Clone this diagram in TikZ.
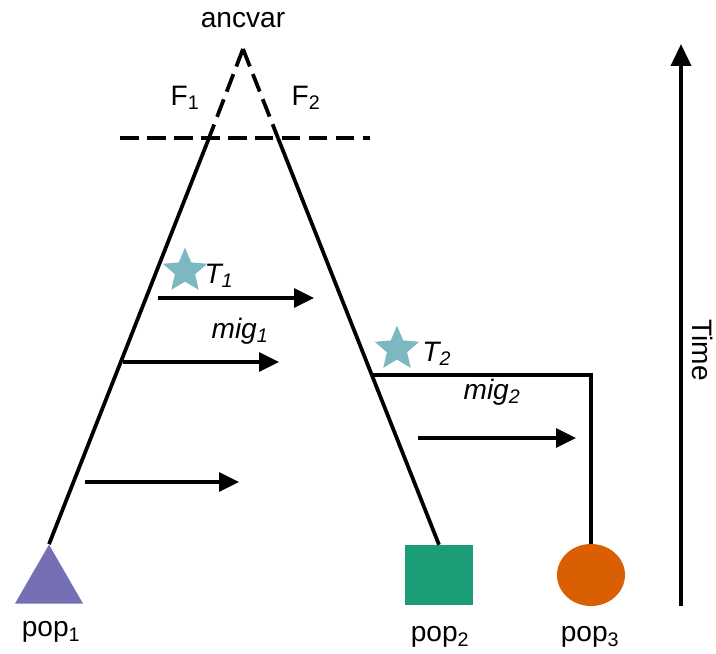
\documentclass[tikz,border=0pt]{standalone}
\usepackage{fontspec}
\setmainfont{Liberation Sans}
\usetikzlibrary{shapes.geometric,arrows.meta,positioning,calc}
\definecolor{popA}{HTML}{7570B3}
\definecolor{popB}{HTML}{1B9E77}
\definecolor{popC}{HTML}{D95F02}
\definecolor{starcol}{HTML}{7BB8C0}
\tikzset{
  lineage/.style={line width=3.2pt},
  ancline/.style={line width=3.2pt, dash pattern=on 16pt off 7pt},
  migarrow/.style={line width=3.2pt, -{Triangle[length=0.6cm,width=0.56cm]}},
  lab/.style={font=\fontsize{24}{28}\selectfont},
  event/.style={star, star points=5, star point ratio=2.2, fill=starcol, minimum size=1.4cm, inner sep=0pt}
}
\begin{document}
\begin{tikzpicture}[x=0.03cm, y=-0.03cm]
  \useasboundingbox (0,0) rectangle (716,654);
  % populations
  \node[regular polygon, regular polygon sides=3, fill=popA, minimum size=2.36cm, inner sep=0pt] (pop1) at (49,584) {};
  \node[rectangle, fill=popB, minimum width=2.04cm, minimum height=1.8cm, inner sep=0pt] (pop2) at (439,575) {};
  \node[ellipse, fill=popC, minimum width=2.04cm, minimum height=1.86cm, inner sep=0pt] (pop3) at (591,575) {};
  \node[lab] (lab1) at (51,632) {pop\textsubscript{1}};
  \node[lab] (lab2) at (440,637) {pop\textsubscript{2}};
  \node[lab] (lab3) at (590,637) {pop\textsubscript{3}};
  % ancestral split
  \coordinate (apex) at (243,49);
  \node[lab] (ancvar) at (243,20) {ancvar};
  \coordinate (f1) at (209,138);
  \coordinate (f2) at (278,138);
  \coordinate (dl) at (120,138);
  \coordinate (dr) at (370,138);
  \draw[ancline] (dl) -- (dr);
  \draw[ancline] (apex) -- (f1);
  \draw[ancline] (apex) -- (f2);
  \node[lab] (F1) at (185,98) {F\textsubscript{1}};
  \node[lab] (F2) at (306,98) {F\textsubscript{2}};
  \draw[lineage] (f1) -- (pop1.corner 1);
  \draw[lineage] (f2) -- (pop2.north);
  % second split
  \coordinate (j2) at (372,375);
  \draw[lineage] (j2) -| (pop3.north);
  \node[event] (star1) at (185,271) {};
  \node[lab, right=1pt of star1, yshift=-4pt] (T1) {\textit{T\textsubscript{1}}};
  \node[event] (star2) at (397,349) {};
  \node[lab, right=6pt of star2, yshift=-4pt] (T2) {\textit{T\textsubscript{2}}};
  % migration
  \coordinate (m1a) at (158,298); \coordinate (m1b) at (314,298);
  \coordinate (m2a) at (123,362); \coordinate (m2b) at (279,362);
  \coordinate (m3a) at (85,482);  \coordinate (m3b) at (239,482);
  \coordinate (m4a) at (418,438); \coordinate (m4b) at (576,438);
  \draw[migarrow] (m1a) -- (m1b);
  \draw[migarrow] (m2a) -- (m2b);
  \draw[migarrow] (m3a) -- (m3b);
  \draw[migarrow] (m4a) -- (m4b);
  \node[lab] (mig1) at (240,331) {\textit{mig\textsubscript{1}}};
  \node[lab] (mig2) at (492,392) {\textit{mig\textsubscript{2}}};
  % time axis
  \coordinate (t0) at (681,606);
  \coordinate (t1) at (681,44);
  \draw[line width=3.2pt, -{Triangle[length=0.66cm,width=0.6cm]}] (t0) -- (t1);
  \node[lab, rotate=-90] (time) at (703,350) {Time};
\end{tikzpicture}
\end{document}
